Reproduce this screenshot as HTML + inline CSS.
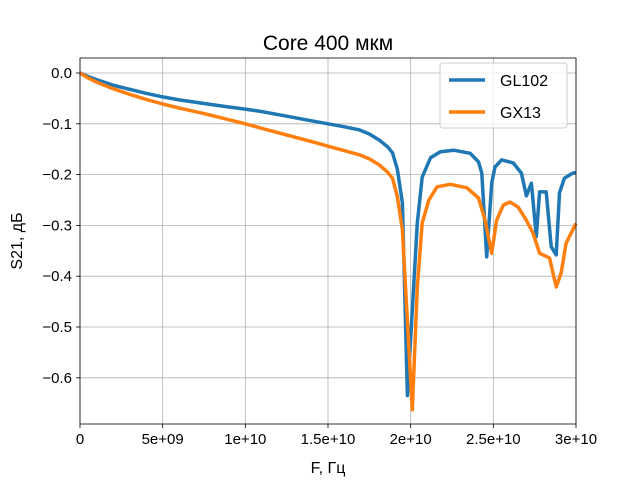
<!DOCTYPE html>
<html><head><meta charset="utf-8"><style>
body{margin:0;background:#fff;font-family:"Liberation Sans",sans-serif;}
</style></head><body>
<svg id="c" width="640" height="480" xmlns="http://www.w3.org/2000/svg" font-family="Liberation Sans, sans-serif"></svg>
<script>
const xTicks=[0,5e9,1e10,1.5e10,2e10,2.5e10,3e10];
const xTickLabels=["0","5e+09","1e+10","1.5e+10","2e+10","2.5e+10","3e+10"];
const yTicks=[0,-0.1,-0.2,-0.3,-0.4,-0.5,-0.6];
const yTickLabels=["0.0","−0.1","−0.2","−0.3","−0.4","−0.5","−0.6"];
const blueF=[0,0.5,1,2,3,4,5,6,7.5,9,10,11,12.5,14,15,16,16.9,17.5,18.1,18.6,18.9,19.2,19.5,19.8,20.4,20.7,21.2,21.8,22.6,23.6,24.1,24.3,24.6,24.9,25.1,25.5,26.2,26.7,27.0,27.3,27.6,27.8,28.2,28.5,28.8,29.0,29.3,29.8,30];
const blueV=[0,-0.007,-0.013,-0.024,-0.032,-0.04,-0.047,-0.053,-0.06,-0.067,-0.071,-0.076,-0.085,-0.094,-0.1,-0.106,-0.112,-0.12,-0.132,-0.145,-0.157,-0.19,-0.256,-0.635,-0.295,-0.205,-0.167,-0.155,-0.152,-0.158,-0.175,-0.197,-0.362,-0.217,-0.185,-0.171,-0.177,-0.197,-0.242,-0.217,-0.322,-0.234,-0.234,-0.342,-0.358,-0.236,-0.207,-0.197,-0.196];
const orangeF=[0,0.5,1,2,3,4,5,6,7.5,9,10,11,12.5,14,15,16,16.9,17.5,18.1,18.6,18.9,19.2,19.5,20.1,20.4,20.7,21.1,21.6,22.4,23.4,24.1,24.5,24.9,25.2,25.6,26.0,26.5,27.0,27.4,27.8,28.4,28.8,29.1,29.4,30];
const orangeV=[0,-0.01,-0.018,-0.031,-0.042,-0.052,-0.061,-0.069,-0.08,-0.092,-0.1,-0.109,-0.122,-0.135,-0.144,-0.153,-0.161,-0.169,-0.181,-0.195,-0.207,-0.244,-0.309,-0.663,-0.421,-0.295,-0.25,-0.224,-0.219,-0.226,-0.246,-0.29,-0.355,-0.29,-0.26,-0.254,-0.264,-0.29,-0.315,-0.355,-0.364,-0.421,-0.394,-0.335,-0.296];
const L=80,R=576,T=58,B=424;
const sx=f=>L+f/3e10*(R-L);
const sy=v=>73-v*508;
const svg=document.getElementById('c');
const NS="http://www.w3.org/2000/svg";
function mk(tag,at,txt){const e=document.createElementNS(NS,tag);for(const k in at)e.setAttribute(k,at[k]);if(txt!==undefined)e.textContent=txt;svg.appendChild(e);return e;}
let e;
e=mk('rect',{x:L,y:T,width:R-L,height:B-T,fill:'#fff'});


xTicks.forEach((t,i)=>{const x=sx(t);
 e=mk('line',{x1:x,x2:x,y1:T,y2:B,stroke:'#b0b0b0','stroke-width':0.8});
 
 
 mk('line',{x1:x,x2:x,y1:B,y2:B+4,stroke:'#000','stroke-width':0.8});
 e=mk('text',{x:x,y:B+20,'text-anchor':'middle','font-size':15},xTickLabels[i]);
 
 
});
yTicks.forEach((t,i)=>{const y=sy(t);
 e=mk('line',{x1:L,x2:R,y1:y,y2:y,stroke:'#b0b0b0','stroke-width':0.8});
 
 
 mk('line',{x1:L-4,x2:L,y1:y,y2:y,stroke:'#000','stroke-width':0.8});
 e=mk('text',{x:L-8,y:y+5,'text-anchor':'end','font-size':15},yTickLabels[i]);
 
 
});
function line(F,V,col,name){
 const d=F.map((f,i)=>(i?'L':'M')+sx(f*1e9).toFixed(1)+','+sy(V[i]).toFixed(1)).join('');
 const p=mk('path',{d:d,fill:'none',stroke:col,'stroke-width':3.5,'stroke-linejoin':'round'});
 
 
}
line(blueF,blueV,'#1f77b4','series-gl102');
line(orangeF,orangeV,'#ff7f0e','series-gx13');
e=mk('rect',{x:L,y:T,width:R-L,height:B-T,fill:'none',stroke:'#000','stroke-width':0.8});


e=mk('text',{x:328,y:50,'text-anchor':'middle','font-size':21},'Core 400 мкм');


e=mk('text',{x:328,y:473,'text-anchor':'middle','font-size':16},'F, Гц');


e=mk('text',{x:22,y:241,'text-anchor':'middle','font-size':16,transform:'rotate(-90 22 241)'},'S21, дБ');


e=mk('rect',{x:440,y:63,width:127,height:65,rx:3,fill:'#fff','fill-opacity':0.8,stroke:'#ccc'});


e=mk('line',{x1:449,x2:485,y1:80,y2:80,stroke:'#1f77b4','stroke-width':3.5});


e=mk('text',{x:500,y:86,'font-size':16},'GL102');


e=mk('line',{x1:449,x2:485,y1:112,y2:112,stroke:'#ff7f0e','stroke-width':3.5});


e=mk('text',{x:500,y:118,'font-size':16},'GX13');


</script>
</body></html>
